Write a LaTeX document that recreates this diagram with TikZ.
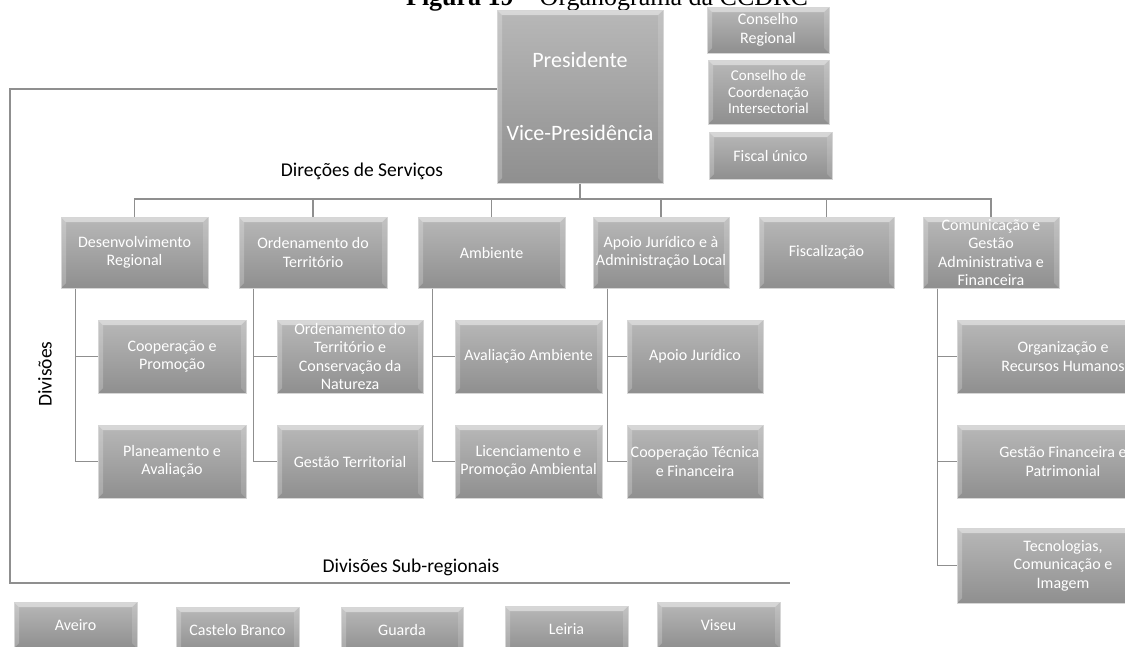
\documentclass[tikz,border=0pt]{standalone}
\usepackage{fontspec}
\setsansfont{Carlito}
\newfontfamily\capfont{Liberation Serif}
\usepackage{tikz}
\usetikzlibrary{positioning, calc}
\tikzset{every node/.style={font=\sffamily}}
\definecolor{boxtop}{HTML}{B8B8B8}
\definecolor{boxbottom}{HTML}{8F8F8F}
\definecolor{boxedge}{HTML}{D6D6D6}
\definecolor{linkgray}{HTML}{8F8F8F}

\begin{document}
\begin{tikzpicture}[x=1pt, y=-1pt,
    orgbox/.style={draw=boxedge, line width=1pt, top color=boxtop, bottom color=boxbottom, text=white, align=center, inner sep=0pt, font=\sffamily\fontsize{16}{18.5}\selectfont,
      path picture={
        \fill[white, opacity=0.45] (path picture bounding box.north west) -- (path picture bounding box.north east) -- ([xshift=-5pt, yshift=-5pt]path picture bounding box.north east) -- ([xshift=5pt, yshift=-5pt]path picture bounding box.north west) -- cycle;
        \fill[white, opacity=0.22] (path picture bounding box.north west) -- ([xshift=5pt, yshift=-5pt]path picture bounding box.north west) -- ([xshift=5pt, yshift=5pt]path picture bounding box.south west) -- (path picture bounding box.south west) -- cycle;
        \fill[white, opacity=0.15] (path picture bounding box.north east) -- ([xshift=-5pt, yshift=-5pt]path picture bounding box.north east) -- ([xshift=-5pt, yshift=5pt]path picture bounding box.south east) -- (path picture bounding box.south east) -- cycle;
      }},
    dirbox/.style={orgbox, minimum height=71pt},
    subbox/.style={orgbox, minimum height=73pt},
    basebox/.style={orgbox, minimum height=46pt},
    link/.style={draw=linkgray, line width=1.5pt},
    tag/.style={font=\sffamily\fontsize{19.5}{22}\selectfont}]
  \useasboundingbox (0,0) rectangle (1125,646);
  \clip (0,0) rectangle (1125,646);

  % titulo
  \node[anchor=base, font=\capfont\fontsize{26}{30}\selectfont] (titulo) at (607,5) {\textbf{Figura 19} – Organograma da CCDRC};

  % topo
  \node[orgbox, minimum width=166pt, minimum height=173pt, font=\sffamily\fontsize{22}{24}\selectfont] (pres) at (580,96.5) {Presidente\\[49pt]Vice-Presidência};
  \node[orgbox, minimum width=122pt, minimum height=46pt] (conreg) at (768,30) {Conselho\\Regional};
  \node[orgbox, minimum width=121pt, minimum height=64pt, font=\sffamily\fontsize{15}{16.5}\selectfont] (concoord) at (768.5,92) {Conselho de\\Coordenação\\Intersectorial};
  \node[orgbox, minimum width=123pt, minimum height=47pt] (fiscal) at (770.5,155.5) {Fiscal único};

  % direcoes de servicos
  \node[dirbox, minimum width=147pt] (desreg) at (134.5,252.5) {Desenvolvimento\\Regional};
  \node[dirbox, minimum width=148pt] (ordter) at (313,252.5) {Ordenamento do\\Território};
  \node[dirbox, minimum width=147pt] (amb) at (491.5,252.5) {Ambiente};
  \node[dirbox, minimum width=136pt] (apoio) at (661,252.5) {Apoio Jurídico e à\\Administração Local};
  \node[dirbox, minimum width=135pt] (fiscaliz) at (826.5,252.5) {Fiscalização};
  \node[dirbox, minimum width=136pt] (comun) at (991,252.5) {Comunicação e\\Gestão\\Administrativa e\\Financeira};

  % divisoes
  \node[subbox, minimum width=148pt] (coop) at (172,356.5) {Cooperação e\\Promoção};
  \node[subbox, minimum width=148pt] (plan) at (172,461.5) {Planeamento e\\Avaliação};
  \node[subbox, minimum width=146pt] (ordcons) at (350,356.5) {Ordenamento do\\Território e\\Conservação da\\Natureza};
  \node[subbox, minimum width=146pt] (gestter) at (350,461.5) {Gestão Territorial};
  \node[subbox, minimum width=147pt] (avamb) at (528.5,356.5) {Avaliação Ambiente};
  \node[subbox, minimum width=147pt] (licamb) at (528.5,461.5) {Licenciamento e\\Promoção Ambiental};
  \node[subbox, minimum width=136pt] (apjur) at (695,356.5) {Apoio Jurídico};
  \node[subbox, minimum width=136pt] (cooptec) at (695,461.5) {Cooperação Técnica\\e Financeira};
  \node[subbox, minimum width=212pt] (orgrh) at (1063,356.5) {Organização e\\Recursos Humanos};
  \node[subbox, minimum width=212pt] (gestfin) at (1063,461.5) {Gestão Financeira e\\Patrimonial};
  \node[subbox, minimum width=212pt, minimum height=75pt] (tecnol) at (1063,565.5) {Tecnologias,\\Comunicação e\\Imagem};

  % divisoes sub-regionais
  \node[basebox, minimum width=123pt] (aveiro) at (75.5,625) {Aveiro};
  \node[basebox, minimum width=123pt] (castelo) at (237.5,630) {Castelo Branco};
  \node[basebox, minimum width=122pt] (guarda) at (402,630) {Guarda};
  \node[basebox, minimum width=123pt] (leiria) at (566.5,629) {Leiria};
  \node[basebox, minimum width=123pt] (viseu) at (718.5,625) {Viseu};

  % ligacoes
  \coordinate (bus) at (582,199);
  \draw[link] (pres.south) -- (pres.south |- bus);
  \draw[link] (desreg.north) |- (bus) -| (comun.north);
  \foreach \dir in {ordter, amb, apoio, fiscaliz}
    \draw[link] (\dir.north) -- (\dir.north |- bus);
  \foreach \dir/\kid in {desreg/coop, desreg/plan, ordter/ordcons, ordter/gestter, amb/avamb, amb/licamb, apoio/apjur, apoio/cooptec, comun/orgrh, comun/gestfin, comun/tecnol}
    \draw[link] ([xshift=15pt]\dir.south west) |- (\kid.west);
  \coordinate (cantoesq) at (10,583);
  \coordinate (fimlinha) at (790,583);
  \draw[link] ([yshift=7.5pt]pres.west) -| (cantoesq) -- (fimlinha);

  % legendas
  \node[tag, anchor=base] (lbldir) at (362,176) {Direções de Serviços};
  \node[tag, rotate=90] (lbldiv) at (45,374) {Divisões};
  \node[tag, anchor=base] (lblsub) at (411,572) {Divisões Sub-regionais};
\end{tikzpicture}
\end{document}
